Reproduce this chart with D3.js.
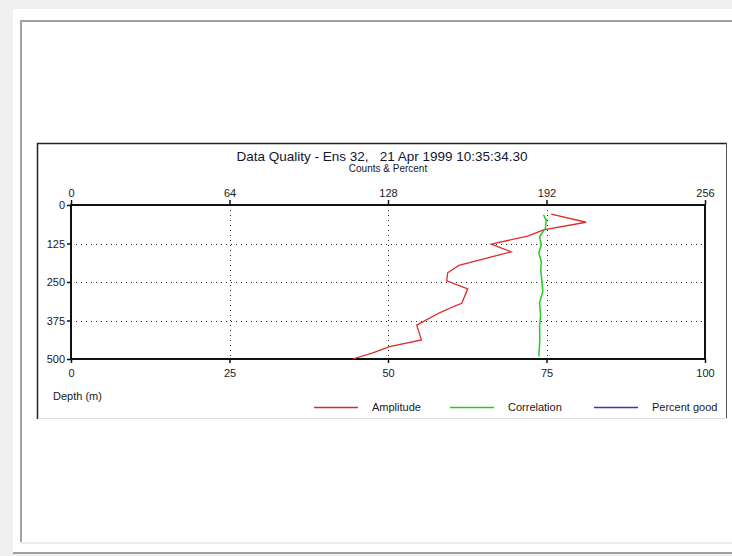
<!DOCTYPE html>
<html>
<head>
<meta charset="utf-8">
<script src="https://cdn.jsdelivr.net/npm/d3@7"></script>
<style>
  body { margin: 0; background: #f0f0f0; }
  svg { display: block; font-family: "Liberation Sans", Arial, sans-serif; }
  .tick text { font-size: 11px; fill: #1a1a1a; }
</style>
</head>
<body>
<svg id="chart" width="732" height="556"></svg>
<script>
// amplitude profile (counts) against depth (m)
var ampDepth  = [30, 56, 81, 101, 127, 152, 196, 220, 246, 272, 319, 328, 350, 390, 438, 460, 480, 500];
var amplitude = [193.9, 208.0, 190.8, 184.4, 169.7, 177.7, 156.6, 152.1, 151.7, 160.2, 157.8, 154.9, 148.8, 139.6, 141.5, 128.6, 121.9, 113.8];

// correlation profile (counts)
var corrDepth   = [32, 49, 75, 103, 130, 156, 184, 211, 244, 281, 318, 357, 395, 438, 492];
var correlation = [190.8, 191.9, 191.6, 189.2, 189.9, 188.9, 189.9, 189.7, 190.1, 190.5, 189.2, 189.6, 189.2, 189.3, 188.9];

var countTicks   = [0, 64, 128, 192, 256];
var percentTicks = [0, 25, 50, 75, 100];
var depthTicks   = [0, 125, 250, 375, 500];

var seriesNames  = ["Amplitude", "Correlation", "Percent good"];
var seriesColors = ["#dd2b2b", "#22cc22", "#3434c8"];

var titleText = "Data Quality - Ens 32,   21 Apr 1999 10:35:34.30";
var subTitle  = "Counts & Percent";

var svg = d3.select("#chart");

// window frame
svg.append("rect").attr("x", 13).attr("y", 9).attr("width", 719).attr("height", 543).attr("fill", "#fff");
svg.append("rect").attr("x", 20).attr("y", 20).attr("width", 712).attr("height", 2).attr("fill", "#a0a0a0");
svg.append("rect").attr("x", 20).attr("y", 20).attr("width", 2).attr("height", 522).attr("fill", "#a0a0a0");
svg.append("rect").attr("x", 20).attr("y", 542).attr("width", 712).attr("height", 2).attr("fill", "#ececec");
svg.append("rect").attr("x", 13).attr("y", 552).attr("width", 719).attr("height", 2).attr("fill", "#a0a0a0");

// chart panel border
svg.append("line").attr("x1", 37).attr("x2", 727).attr("y1", 143.5).attr("y2", 143.5).attr("stroke", "#222").attr("stroke-width", 1.5);
svg.append("line").attr("x1", 37.5).attr("x2", 37.5).attr("y1", 143).attr("y2", 419).attr("stroke", "#222").attr("stroke-width", 1.5);
svg.append("line").attr("x1", 726.5).attr("x2", 726.5).attr("y1", 143).attr("y2", 418).attr("stroke", "#555");
svg.append("line").attr("x1", 38).attr("x2", 727).attr("y1", 418.5).attr("y2", 418.5).attr("stroke", "#dcdcdc");

var xScale = d3.scaleLinear().domain([0, 256]).range([71, 705]);
var xPct = d3.scaleLinear().domain([0, 100]).range([71, 705]);
var yScale = d3.scaleLinear().domain([0, 500]).range([205, 359]);

// dotted grid
var grid = svg.append("g").attr("stroke", "#222").attr("stroke-dasharray", "1,4");
grid.selectAll(".gx")
    .data(countTicks.slice(1, -1))
    .enter().append("line")
    .attr("x1", function(d){ return Math.round(xScale(d)) + 0.5; })
    .attr("x2", function(d){ return Math.round(xScale(d)) + 0.5; })
    .attr("y1", yScale(0)).attr("y2", yScale(500));
grid.selectAll(".gy")
    .data(depthTicks.slice(1, -1))
    .enter().append("line")
    .attr("y1", function(d){ return Math.round(yScale(d)) + 0.5; })
    .attr("y2", function(d){ return Math.round(yScale(d)) + 0.5; })
    .attr("x1", xScale(0)).attr("x2", xScale(256));

// axes
var axisTopG = svg.append("g").attr("transform", "translate(0," + yScale(0) + ")")
    .call(d3.axisTop(xScale).tickValues(countTicks).tickSize(5).tickSizeOuter(0).tickPadding(3));
var axisBottomG = svg.append("g").attr("transform", "translate(0," + yScale(500) + ")")
    .call(d3.axisBottom(xPct).tickValues(percentTicks).tickSize(4).tickSizeOuter(0).tickPadding(6));
var axisLeftG = svg.append("g").attr("transform", "translate(" + xScale(0) + ",0)")
    .call(d3.axisLeft(yScale).tickValues(depthTicks).tickSize(4).tickSizeOuter(0).tickPadding(2));
[axisTopG, axisBottomG, axisLeftG].forEach(function(a){
    a.select(".domain").remove();
    a.selectAll(".tick line").attr("stroke", "#111").attr("stroke-width", 1.5);
});

// plot box
svg.append("rect")
    .attr("x", xScale(0)).attr("y", yScale(0))
    .attr("width", xScale(256) - xScale(0)).attr("height", yScale(500) - yScale(0))
    .attr("fill", "none").attr("stroke", "#111").attr("stroke-width", 2);

// profiles
var ampLine = d3.line()
    .x(function(d, i){ return xScale(amplitude[i]); })
    .y(function(d){ return yScale(d); });
svg.append("path").datum(ampDepth)
    .attr("d", ampLine)
    .attr("fill", "none").attr("stroke", seriesColors[0]).attr("stroke-width", 1.3);

var corrLine = d3.line()
    .x(function(d, i){ return xScale(correlation[i]); })
    .y(function(d){ return yScale(d); });
svg.append("path").datum(corrDepth)
    .attr("d", corrLine)
    .attr("fill", "none").attr("stroke", seriesColors[1]).attr("stroke-width", 1.5);

// titles
svg.append("text").attr("x", 382).attr("y", 160.5)
    .attr("text-anchor", "middle").attr("font-size", 13.5).attr("fill", "#151530")
    .style("white-space", "pre")
    .text(titleText);
svg.append("text").attr("x", 388).attr("y", 172)
    .attr("text-anchor", "middle").attr("font-size", 10).attr("fill", "#151530")
    .text(subTitle);
svg.append("text").attr("x", 53).attr("y", 400)
    .attr("font-size", 11).attr("fill", "#1a1a1a")
    .text("Depth (m)");

// legend
var legendX = [314, 450, 594];
var legend = svg.selectAll(".legend")
    .data(seriesNames)
    .enter().append("g")
    .attr("transform", function(d, i){ return "translate(" + legendX[i] + ",407)"; });
legend.append("line")
    .attr("x1", 0).attr("x2", 44).attr("y1", 0.5).attr("y2", 0.5)
    .attr("stroke", function(d, i){ return seriesColors[i]; })
    .attr("stroke-width", 1.3);
legend.append("text")
    .attr("x", 58).attr("y", 4)
    .attr("font-size", 11).attr("fill", "#1a1a1a")
    .text(function(d){ return d; });
</script>
</body>
</html>
